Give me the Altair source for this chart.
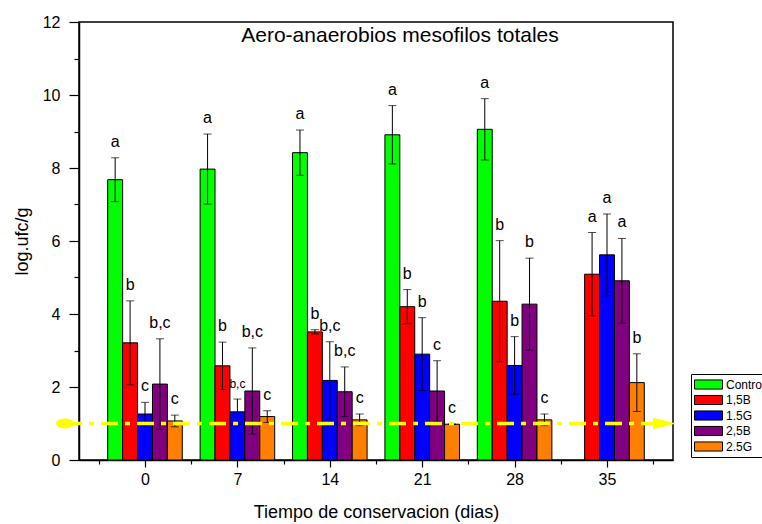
import altair as alt
import pandas as pd

# ---------------- data ----------------
days = [0, 7, 14, 21, 28, 35]
series = ["Control", "1,5B", "1.5G", "2,5B", "2.5G"]
colors = ["#00FF00", "#FF0000", "#0000FF", "#800080", "#FF8000"]

control_mean = [7.68, 7.97, 8.42, 8.91, 9.06, None]
b15_mean = [3.21, 2.58, 3.51, 4.20, 4.35, 5.09]
g15_mean = [1.26, 1.32, 2.18, 2.90, 2.59, 5.62]
b25_mean = [2.08, 1.89, 1.87, 1.89, 4.27, 4.91]
g25_mean = [1.07, 1.19, 1.10, 0.98, 1.10, 2.12]

control_err = [0.60, 0.96, 0.62, 0.80, 0.84, None]
b15_err = [1.15, 0.65, 0.06, 0.47, 1.66, 1.14]
g15_err = [0.32, 0.35, 1.06, 1.00, 0.79, 1.12]
b25_err = [1.24, 1.18, 0.68, 0.83, 1.26, 1.16]
g25_err = [0.16, 0.16, 0.16, 0.00, 0.16, 0.79]

control_sig = ["a", "a", "a", "a", "a", ""]
b15_sig = ["b", "b", "b", "b", "b", "a"]
g15_sig = ["c", "b,c", "b,c", "b", "b", "a"]
b25_sig = ["b,c", "b,c", "b,c", "c", "b", "a"]
g25_sig = ["c", "c", "c", "c", "c", "b"]

detection_limit = 1.0

title_text = "Aero-anaerobios mesofilos totales"
x_title = "Tiempo de conservacion (dias)"
y_title = "log.ufc/g"

# ---------------- table ----------------
means = [control_mean, b15_mean, g15_mean, b25_mean, g25_mean]
errs = [control_err, b15_err, g15_err, b25_err, g25_err]
sigs = [control_sig, b15_sig, g15_sig, b25_sig, g25_sig]

BAR_W = 1.13  # bar width in x units (days)
rows = []
for si, s in enumerate(series):
    for di, d in enumerate(days):
        m = means[si][di]
        if m is None:
            continue
        e = errs[si][di]
        xc = d + (si - 2) * BAR_W
        rows.append(dict(day=d, series=s, mean=m, err=e, sig=sigs[si][di],
                         xc=xc, x0=xc - BAR_W / 2, x1=xc + BAR_W / 2,
                         lo=m - e, hi=m + e))
df = pd.DataFrame(rows)

FONT = "Liberation Sans"
x_scale = alt.Scale(domain=[-5, 40], nice=False, zero=False)
y_scale = alt.Scale(domain=[0, 12], nice=False)

x_axis = alt.Axis(
    values=[-3.5 + 3.5 * k for k in range(13)],
    labelExpr="datum.value % 7 == 0 ? datum.label : ''",
    tickSize={"condition": {"test": "datum.value % 7 == 0", "value": 7}, "value": 4},
    title=x_title, titleFontSize=18, titleFontWeight="normal", titlePadding=16,
    labelFontSize=16, labelPadding=4, grid=False,
)
y_axis = alt.Axis(
    values=list(range(0, 13)),
    labelExpr="datum.value % 2 == 0 ? datum.label : ''",
    tickSize={"condition": {"test": "datum.value % 2 == 0", "value": 10}, "value": 5},
    title=y_title, titleFontSize=18, titleFontWeight="normal", titlePadding=11,
    labelFontSize=16, labelPadding=9, grid=False,
)

legend_symbol = "M-2,-0.65H2V0.65H-2Z"

X = lambda f: alt.X(f, scale=x_scale, axis=x_axis, title=x_title)
Y = lambda f: alt.Y(f, scale=y_scale, axis=y_axis, title=y_title)
Yd = alt.Y(datum=detection_limit, type="quantitative", scale=y_scale, axis=y_axis, title=y_title)

bars = alt.Chart(df).mark_bar(stroke="black", strokeWidth=1, opacity=1).encode(
    x=X("x0:Q"),
    x2="x1:Q",
    y=Y("mean:Q"),
    y2=alt.Y2(datum=0),
    color=alt.Color(
        "series:N",
        scale=alt.Scale(domain=series, range=colors),
        sort=series,
        legend=alt.Legend(
            orient="none", legendX=612, legendY=352, title=None,
            symbolType=legend_symbol, symbolSize=196, symbolOffset=7,
            symbolStrokeColor="black", symbolStrokeWidth=1,
            labelFontSize=12, labelFont=FONT, labelOffset=10,
            strokeColor="black", fillColor="white", padding=3, rowPadding=0.5,
        ),
    ),
)

err_rule = alt.Chart(df).mark_rule(color="black", strokeWidth=1).encode(
    x=X("xc:Q"), y=Y("lo:Q"), y2="hi:Q",
)
cap_hi = alt.Chart(df).mark_tick(color="black", orient="horizontal", size=8, thickness=1).encode(
    x=X("xc:Q"), y=Y("hi:Q"),
)
cap_lo = alt.Chart(df).mark_tick(color="black", orient="horizontal", size=8, thickness=1).encode(
    x=X("xc:Q"), y=Y("lo:Q"),
)

labels = alt.Chart(df).mark_text(color="black", font=FONT, baseline="alphabetic", dy=-11).encode(
    x=X("xc:Q"), y=Y("hi:Q"),
    text="sig:N",
    size=alt.condition("datum.day == 7 && datum.series == '1.5G'", alt.value(12), alt.value(16)),
)

one = alt.Data(values=[{}])
limit_line = alt.Chart(one).mark_rule(
    color="#FFFF00", strokeWidth=3.5, strokeDash=[17, 7, 5, 7]
).encode(x=alt.value(-14), x2=alt.value(574), y=Yd)
limit_start = alt.Chart(one).mark_point(
    shape="M-1,0A1,0.55 0 1,0 1,0A1,0.55 0 1,0 -1,0Z", size=324,
    filled=True, color="#FFFF00", opacity=1,
).encode(x=alt.value(-14), y=Yd)
limit_end = alt.Chart(one).mark_point(
    shape="M-1,-0.5L1,0L-1,0.5Z", size=529,
    filled=True, color="#FFFF00", opacity=1,
).encode(x=alt.value(585.5), y=Yd)

title_mark = alt.Chart(one).mark_text(
    text=title_text, font=FONT, fontSize=21, color="black",
    align="center", baseline="alphabetic",
).encode(x=alt.value(321), y=alt.value(19.7))

chart = alt.layer(
    bars, err_rule, cap_hi, cap_lo, labels, limit_line, limit_start, limit_end, title_mark
).properties(
    width=594, height=438,
    autosize=alt.AutoSizeParams(type="none"),
    padding={"left": 79, "top": 22, "right": 89, "bottom": 64},
    background="white",
).configure(font=FONT).configure_view(
    stroke="black", strokeWidth=1.5
).configure_axis(
    domainColor="black", domainWidth=1.5, tickColor="black", tickWidth=1.2,
    labelColor="black", titleColor="black", labelFont=FONT, titleFont=FONT,
)

chart.save("out.html", embed_options={"renderer": "svg", "actions": False})
